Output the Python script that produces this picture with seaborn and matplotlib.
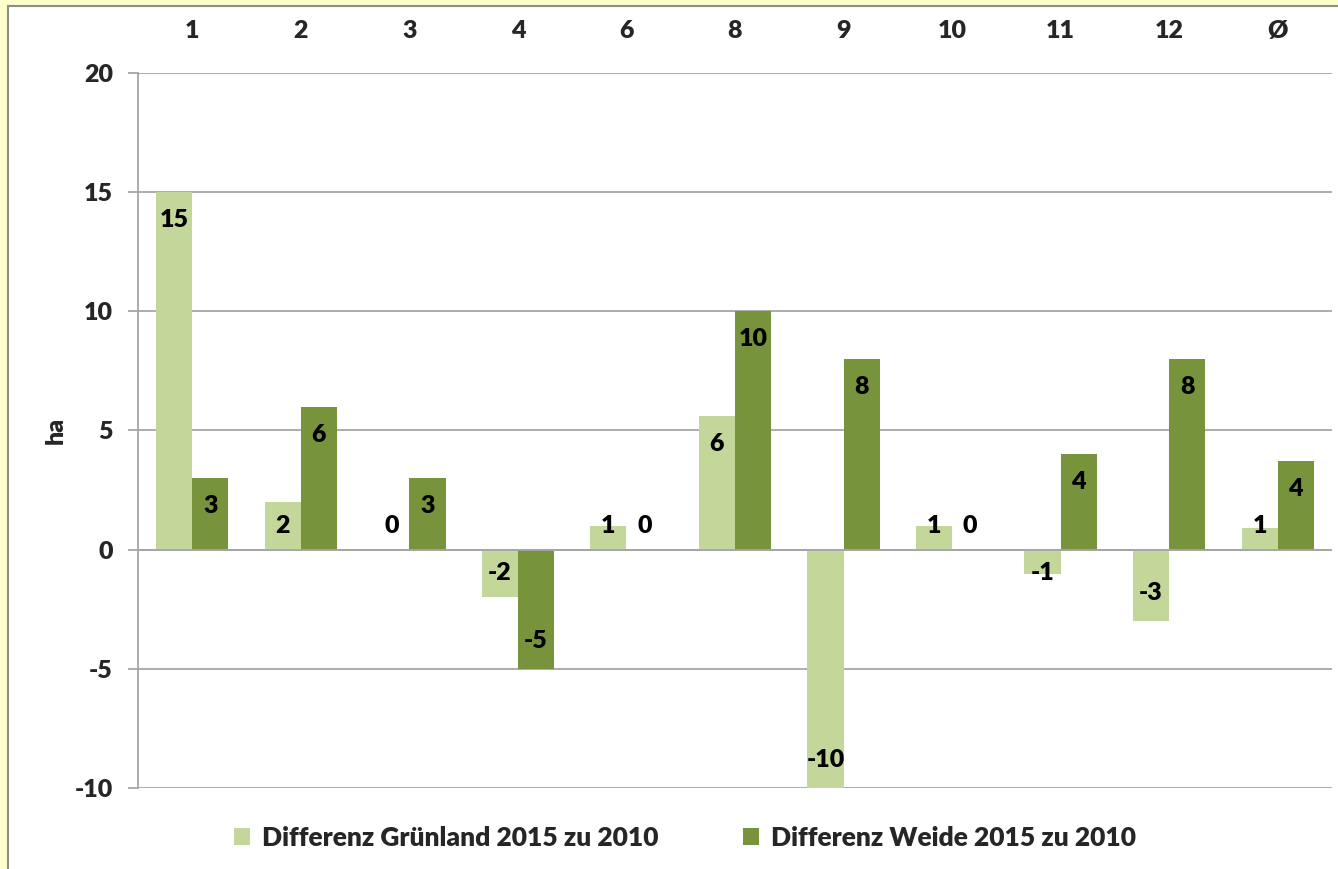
import matplotlib
matplotlib.use("Agg")
import matplotlib.pyplot as plt
from matplotlib.patches import Rectangle, Patch
import numpy as np
import pandas as pd
import seaborn as sns

# Data: area change per group (ha)
categories = ["1", "2", "3", "4", "6", "8", "9", "10", "11", "12", "Ø"]
gruenland = [15, 2, 0, -2, 1, 5.6, -10, 1, -1, -3, 0.9]
weide = [3, 6, 3, -5, 0, 10, 8, 0, 4, 8, 3.7]
series_names = ["Differenz Grünland 2015 zu 2010", "Differenz Weide 2015 zu 2010"]
y_ticks = [-10, -5, 0, 5, 10, 15, 20]

light_green = "#C4D79B"
dark_green = "#77933C"
grid_gray = "#A6A6A6"
FS = 18
FW = "heavy"

sns.set_theme(style="white")
plt.rcParams["font.family"] = ["Lato", "DejaVu Sans"]
plt.rcParams["font.weight"] = FW
plt.rcParams["axes.unicode_minus"] = False

df = pd.DataFrame({
    "Gruppe": categories * 2,
    "Wert": gruenland + weide,
    "Serie": [series_names[0]] * len(categories) + [series_names[1]] * len(categories),
})

fig = plt.figure(figsize=(13.38, 8.69), dpi=100)
fig.patch.set_facecolor("#FFFFCC")
# white chart panel with a thin grey frame on the visible edges
fig.add_artist(Rectangle((8 / 1338, -0.02), 1.05, 1 - 6 / 869 + 0.02,
                         transform=fig.transFigure, facecolor="white",
                         edgecolor="#8C8C8C", linewidth=1.5, zorder=-10))

ax = fig.add_axes([138 / 1338, 1 - 788 / 869, (1332 - 138) / 1338, (788 - 73) / 869])
ax.set_facecolor("none")

sns.barplot(data=df, x="Gruppe", y="Wert", hue="Serie", order=categories,
            hue_order=series_names, palette=[light_green, dark_green],
            width=2 / 3, gap=0, ax=ax, legend=False, saturation=1,
            errorbar=None, linewidth=0, zorder=3)

ax.set_ylim(-10, 20)
ax.set_xlim(-0.5, len(categories) - 0.5)
ax.set_yticks(y_ticks)
ax.set_yticklabels([str(t) for t in y_ticks], fontsize=FS, fontweight=FW)
ax.yaxis.grid(True, color=grid_gray, linewidth=1.3, zorder=0)
ax.set_axisbelow(True)
ax.tick_params(axis="y", length=7, width=1.3, color=grid_gray, pad=11, left=True)
ax.axhline(0, color=grid_gray, linewidth=1.3, zorder=4)

ax.xaxis.tick_top()
ax.tick_params(axis="x", length=0, pad=22, labelsize=FS)
for lbl in ax.get_xticklabels():
    lbl.set_fontweight(FW)
ax.set_xlabel("")
ax.set_ylabel("ha", fontsize=FS, fontweight=FW, labelpad=6)

for side in ["top", "right", "bottom"]:
    ax.spines[side].set_visible(False)
ax.spines["left"].set_color(grid_gray)
ax.spines["left"].set_linewidth(1.3)

# value labels at the inner end of each bar
for container, values in zip(ax.containers, [gruenland, weide]):
    for bar, v in zip(container, values):
        x = bar.get_x() + bar.get_width() / 2
        sign = 1 if v >= 0 else -1
        off = min(1.17, abs(v) - 1.0)
        ax.text(x, v - sign * off, f"{v:.0f}", ha="center", va="center",
                fontsize=FS, fontweight=FW, color="black", zorder=5)

handles = [Patch(facecolor=light_green, edgecolor="none"),
           Patch(facecolor=dark_green, edgecolor="none")]
fig.legend(handles, series_names, loc="center", bbox_to_anchor=(0.512, 0.036),
           ncol=2, frameon=False, handlelength=0.6, handleheight=0.6,
           handletextpad=0.45, columnspacing=3.2, prop={"weight": FW, "size": FS + 1})

fig.savefig("out.png", dpi=100, facecolor=fig.get_facecolor())
